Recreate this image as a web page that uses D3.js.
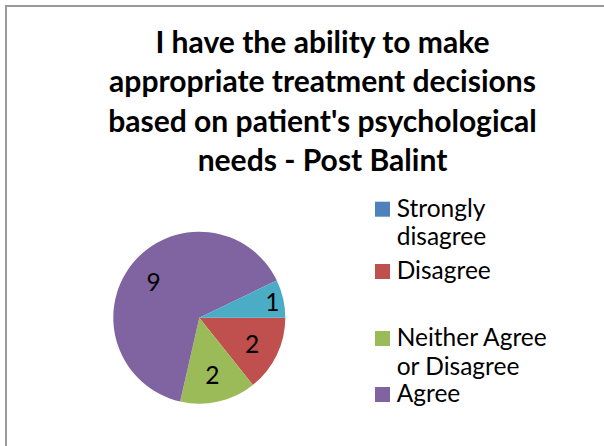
<!DOCTYPE html>
<html>
<head>
<meta charset="utf-8">
<script src="https://cdn.jsdelivr.net/npm/d3@7"></script>
<style>
  html, body { margin: 0; padding: 0; background: #fff; }
  svg { display: block; }
</style>
</head>
<body>
<svg id="chart" width="604" height="446"></svg>
<script>
// ---- data ----
const categories = ["Strongly disagree", "Disagree", "Neither Agree or Disagree", "Agree", "Strongly Agree"];
const values = [0, 2, 2, 9, 1];
const colors = ["#4F81BD", "#C0504D", "#9BBB59", "#8064A2", "#4BACC6"];
const titleLines = ["I have the ability to make", "appropriate treatment decisions", "based on patient's psychological", "needs - Post Balint"];
// legend text as wrapped in the original (last entry is clipped off in the original)
const legendLines = [["Strongly", "disagree"], ["Disagree"], ["Neither Agree", "or Disagree"], ["Agree"]];

const FONT = "Lato, 'Open Sans', sans-serif";
const svg = d3.select("#chart");

// frame
svg.append("rect")
  .attr("x", 6).attr("y", 6).attr("width", 700).attr("height", 500)
  .attr("fill", "#fff").attr("stroke", "#9a9a9a").attr("stroke-width", 2);

// helper: font size so that text has a given width
function fitSize(text, weight, targetWidth) {
  const t = svg.append("text").attr("font-family", FONT).attr("font-weight", weight)
    .attr("font-size", 100).text(text);
  const w = t.node().getComputedTextLength();
  t.remove();
  return 100 * targetWidth / w;
}

// title
const titleSize = fitSize(titleLines[1], "bold", 427);
const titleCx = 322.5, titleBase0 = 53.3, titleStep = 39.1;
svg.append("g").selectAll("text").data(titleLines).join("text")
  .attr("x", titleCx)
  .attr("y", (d, i) => titleBase0 + i * titleStep)
  .attr("text-anchor", "middle")
  .attr("font-family", FONT).attr("font-weight", "bold")
  .attr("font-size", titleSize.toFixed(2))
  .attr("fill", "#000")
  .text(d => d);

// pie
const cx = 199.3, cy = 317.7, R = 86;
const total = d3.sum(values);
const pie = d3.pie().sort(null).value(d => d.value)
  .startAngle(Math.PI / 2).endAngle(Math.PI / 2 + 2 * Math.PI);
const data = categories.map((c, i) => ({ cat: c, value: values[i], color: colors[i] }));
const arcs = pie(data);
const arc = d3.arc().innerRadius(0).outerRadius(R);
const g = svg.append("g").attr("transform", `translate(${cx},${cy})`);
g.selectAll("path").data(arcs.filter(a => a.data.value > 0)).join("path")
  .attr("d", arc)
  .attr("fill", d => d.data.color);

const labelSize = fitSize("Neither Agree", "normal", 150);
g.selectAll("text.lbl").data(arcs.filter(a => a.data.value > 0)).join("text")
  .attr("class", "lbl")
  .each(function (d) {
    const frac = d.data.value / total;
    const r = frac < 0.1 ? R * 0.87 : R * 0.68;
    const a = (d.startAngle + d.endAngle) / 2;
    d3.select(this)
      .attr("x", r * Math.sin(a))
      .attr("y", -r * Math.cos(a));
  })
  .attr("text-anchor", "middle")
  .attr("dominant-baseline", "central")
  .attr("font-family", FONT)
  .attr("font-size", labelSize.toFixed(2))
  .attr("fill", "#000")
  .text(d => d.data.value);

// legend
const legTop = [201.7, 264, 331, 387];
const lineStep = 28.5;
const lg = svg.append("g");
legendLines.forEach((lines, i) => {
  const item = lg.append("g").attr("transform", `translate(375,${legTop[i]})`);
  item.append("rect").attr("width", 15).attr("height", 15).attr("fill", colors[i]);
  item.selectAll("text").data(lines).join("text")
    .attr("x", 21.7)
    .attr("y", (d, j) => 15 + j * lineStep)
    .attr("font-family", FONT)
    .attr("font-size", labelSize.toFixed(2))
    .attr("fill", "#000")
    .text(d => d);
});
</script>
</body>
</html>
